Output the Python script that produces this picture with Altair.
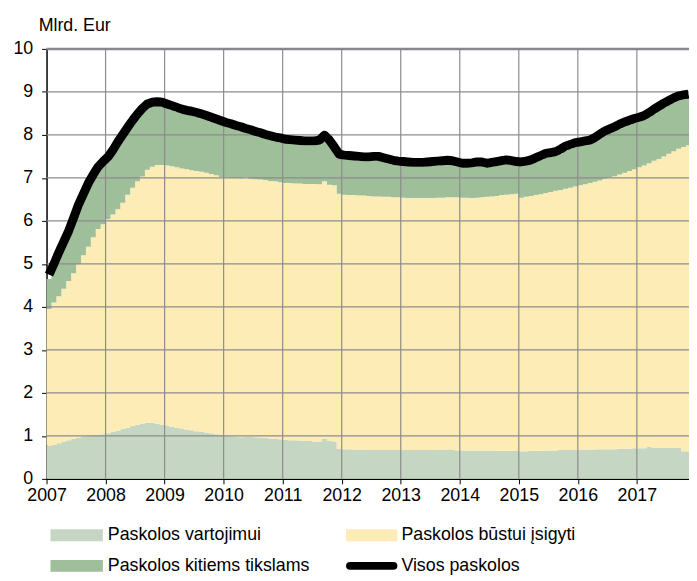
import altair as alt
import pandas as pd

# ---- data (monthly, Jan 2007 .. Nov 2017) ----
vartojimui = [  # top of "Paskolos vartojimui" (consumer loans)
    0.77, 0.79, 0.83, 0.87, 0.90, 0.93, 0.96, 0.99, 1.01, 1.02, 1.03, 1.04,
    1.06, 1.09, 1.12, 1.16, 1.19, 1.23, 1.26, 1.28, 1.30, 1.30, 1.28, 1.26,
    1.24, 1.21, 1.19, 1.17, 1.15, 1.13, 1.11, 1.09, 1.08, 1.06, 1.04, 1.02,
    1.00, 0.99, 0.98, 0.97, 0.98, 0.98, 0.97, 0.96, 0.95, 0.94, 0.93, 0.92,
    0.91, 0.90, 0.90, 0.89, 0.88, 0.88, 0.87, 0.87, 0.94, 0.88, 0.87, 0.70,
    0.69, 0.69, 0.68, 0.68, 0.68, 0.67, 0.67, 0.67, 0.67, 0.67, 0.67, 0.67,
    0.67, 0.67, 0.67, 0.67, 0.67, 0.67, 0.67, 0.68, 0.68, 0.68, 0.67, 0.66,
    0.66, 0.66, 0.66, 0.66, 0.66, 0.66, 0.66, 0.65, 0.65, 0.65, 0.65, 0.65,
    0.64, 0.64, 0.65, 0.65, 0.65, 0.66, 0.66, 0.66, 0.67, 0.67, 0.67, 0.67,
    0.68, 0.68, 0.68, 0.68, 0.69, 0.69, 0.69, 0.69, 0.70, 0.70, 0.70, 0.71,
    0.71, 0.71, 0.74, 0.72, 0.72, 0.72, 0.72, 0.72, 0.72, 0.64, 0.64,
]
bustui_virsus = [  # top of "Paskolos būstui įsigyti" stack
    3.95, 4.10, 4.25, 4.42, 4.60, 4.78, 4.99, 5.20, 5.40, 5.62, 5.81, 5.92,
    6.04, 6.15, 6.27, 6.42, 6.61, 6.77, 6.92, 7.03, 7.19, 7.26, 7.30, 7.30,
    7.29, 7.27, 7.25, 7.22, 7.20, 7.18, 7.16, 7.14, 7.12, 7.09, 7.06, 7.02,
    7.01, 7.00, 7.00, 6.99, 7.02, 6.98, 6.97, 6.96, 6.95, 6.93, 6.92, 6.90,
    6.88, 6.88, 6.87, 6.87, 6.86, 6.86, 6.86, 6.85, 6.92, 6.84, 6.83, 6.63,
    6.61, 6.60, 6.60, 6.59, 6.59, 6.58, 6.57, 6.57, 6.56, 6.56, 6.55, 6.55,
    6.54, 6.53, 6.53, 6.53, 6.53, 6.53, 6.53, 6.54, 6.54, 6.55, 6.55, 6.55,
    6.54, 6.54, 6.53, 6.54, 6.55, 6.56, 6.57, 6.58, 6.60, 6.61, 6.62, 6.63,
    6.54, 6.56, 6.58, 6.60, 6.62, 6.65, 6.67, 6.70, 6.72, 6.75, 6.77, 6.80,
    6.83, 6.85, 6.88, 6.91, 6.94, 6.98, 7.01, 7.04, 7.08, 7.12, 7.16, 7.20,
    7.25, 7.29, 7.34, 7.40, 7.44, 7.50, 7.56, 7.62, 7.68, 7.72, 7.76,
]
kitiems_virsus = [  # top of "Paskolos kitiems tikslams" stack
    4.65, 4.90, 5.17, 5.42, 5.67, 5.97, 6.28, 6.53, 6.78, 6.98, 7.16, 7.28,
    7.39, 7.55, 7.74, 7.91, 8.08, 8.24, 8.39, 8.52, 8.62, 8.66, 8.67, 8.66,
    8.62, 8.58, 8.54, 8.50, 8.47, 8.45, 8.42, 8.39, 8.35, 8.31, 8.27, 8.23,
    8.19, 8.16, 8.12, 8.09, 8.05, 8.02, 7.98, 7.95, 7.91, 7.88, 7.85, 7.83,
    7.80, 7.79, 7.78, 7.77, 7.76, 7.76, 7.76, 7.78, 7.89, 7.78, 7.62, 7.45,
    7.43, 7.42, 7.41, 7.40, 7.39, 7.39, 7.40, 7.40, 7.37, 7.34, 7.31, 7.29,
    7.28, 7.27, 7.26, 7.26, 7.26, 7.27, 7.28, 7.29, 7.30, 7.31, 7.30, 7.27,
    7.24, 7.24, 7.25, 7.27, 7.27, 7.24, 7.26, 7.28, 7.30, 7.32, 7.30, 7.28,
    7.27, 7.29, 7.32, 7.37, 7.42, 7.47, 7.49, 7.51, 7.57, 7.64, 7.68, 7.72,
    7.74, 7.76, 7.78, 7.84, 7.92, 7.99, 8.04, 8.09, 8.15, 8.20, 8.24, 8.28,
    8.31, 8.35, 8.42, 8.50, 8.57, 8.64, 8.70, 8.76, 8.81, 8.83, 8.85,
]
visos = [  # "Visos paskolos" line
    4.75, 5.00, 5.27, 5.52, 5.77, 6.07, 6.38, 6.63, 6.88, 7.08, 7.26, 7.38,
    7.49, 7.65, 7.84, 8.01, 8.18, 8.34, 8.49, 8.62, 8.72, 8.76, 8.77, 8.76,
    8.72, 8.68, 8.64, 8.60, 8.57, 8.55, 8.52, 8.49, 8.45, 8.41, 8.37, 8.33,
    8.29, 8.26, 8.22, 8.19, 8.15, 8.12, 8.08, 8.05, 8.01, 7.98, 7.95, 7.93,
    7.90, 7.89, 7.88, 7.87, 7.86, 7.86, 7.86, 7.88, 7.99, 7.88, 7.72, 7.55,
    7.53, 7.52, 7.51, 7.50, 7.49, 7.49, 7.50, 7.50, 7.47, 7.44, 7.41, 7.39,
    7.38, 7.37, 7.36, 7.36, 7.36, 7.37, 7.38, 7.39, 7.40, 7.41, 7.40, 7.37,
    7.34, 7.34, 7.35, 7.37, 7.37, 7.34, 7.36, 7.38, 7.40, 7.42, 7.40, 7.38,
    7.37, 7.39, 7.42, 7.47, 7.52, 7.57, 7.59, 7.61, 7.67, 7.74, 7.78, 7.82,
    7.84, 7.86, 7.88, 7.94, 8.02, 8.09, 8.14, 8.19, 8.25, 8.30, 8.34, 8.38,
    8.41, 8.45, 8.52, 8.60, 8.67, 8.74, 8.80, 8.86, 8.91, 8.93, 8.95,
]
first_year = 2007
year_ticks = list(range(0, 121, 12))          # month index of each January
y_ticks = list(range(0, 11))
grid_y = list(range(1, 10))
grid_x = list(range(12, 121, 12))
legend_labels = ["Paskolos vartojimui", "Paskolos būstui įsigyti",
                 "Paskolos kitiems tikslams", "Visos paskolos"]
unit_label = "Mlrd. Eur"

C_CONS = "#c5d7c2"
C_HOUS = "#feecb6"
C_OTH = "#9ebf99"
C_GRID = "#8c8c8c"
C_TOP = "#86888b"
FONT = "Liberation Sans"
W, H = 650, 435

n = len(visos)
# step areas: one point per month start plus a closing point at the end of the last month
idx = list(range(n + 1))
ext = lambda a: list(a) + [a[-1]]
area_df = pd.DataFrame({
    "m": idx,
    "zero": [0.0] * (n + 1),
    "c": ext(vartojimui),
    "ht": ext(bustui_virsus),
    "gt": ext(kitiems_virsus),
})
line_df = pd.DataFrame({"mc": [i + 0.5 for i in range(n)], "visos": visos})

xscale = alt.Scale(domain=[0, 130.6], nice=False, zero=False)
yscale = alt.Scale(domain=[0, 10], nice=False)
axis_style = dict(labelFont=FONT, labelFontSize=18, labelColor="black",
                  domainColor="black", domainWidth=1.5, tickColor="black",
                  tickWidth=1, tickSize=5, title=None, grid=False)
xaxis = alt.Axis(values=year_ticks, labelExpr=f"{first_year} + datum.value / 12",
                 labelPadding=3, labelOverlap=False, labelFlush=False, **axis_style)
yaxis = alt.Axis(values=y_ticks, labelPadding=9, **axis_style)


def X(f):
    return alt.X(f"{f}:Q", scale=xscale, axis=xaxis)


def Y(f):
    return alt.Y(f"{f}:Q", scale=yscale, axis=yaxis)


abase = alt.Chart(area_df)
cons = abase.mark_area(color=C_CONS, interpolate="step-after").encode(
    x=X("m"), y=Y("zero"), y2="c:Q")
hous = abase.mark_area(color=C_HOUS, interpolate="step-after").encode(
    x=X("m"), y=Y("c"), y2="ht:Q")
oth = abase.mark_area(color=C_OTH, interpolate="step-after").encode(
    x=X("m"), y=Y("ht"), y2="gt:Q")

# solid thin gridlines (dashed ones did not show up in earlier renders)
grid_mark = dict(color=C_GRID, strokeWidth=1.2)
gy = alt.Chart(pd.DataFrame({"gy": grid_y})).mark_rule(**grid_mark).encode(
    y=Y("gy"), x=alt.value(0), x2=alt.value(W))
gx = alt.Chart(pd.DataFrame({"gx": grid_x})).mark_rule(**grid_mark).encode(
    x=X("gx"), y=alt.value(0), y2=alt.value(H))

line = alt.Chart(line_df).mark_line(color="black", strokeWidth=9, strokeJoin="round",
                                    strokeCap="butt").encode(
    x=X("mc"), y=Y("visos"))

one = pd.DataFrame({"k": [0]})

# grey frame line along the top of the plot
top = alt.Chart(one).mark_rule(color=C_TOP, strokeWidth=2.5).encode(
    x=alt.value(0), x2=alt.value(W), y=alt.value(0))


def sym_rect(x0, x1, yc, color):
    return alt.Chart(one).mark_rect(color=color).encode(
        x=alt.value(x0), x2=alt.value(x1), y=alt.value(yc - 6), y2=alt.value(yc + 6))


def label(x0, yc, txt):
    return alt.Chart(one).mark_text(align="left", baseline="middle", fontSize=18,
                                    font=FONT, color="black").encode(
        x=alt.value(x0), y=alt.value(yc), text=alt.value(txt))


r1, r2 = 492, 523
leg = [
    sym_rect(4, 57, r1, C_CONS), label(62, r1, legend_labels[0]),
    sym_rect(303, 355, r1, C_HOUS), label(359, r1, legend_labels[1]),
    sym_rect(4, 57, r2, C_OTH), label(62, r2, legend_labels[2]),
    alt.Chart(one).mark_rule(color="black", strokeWidth=8, strokeCap="round").encode(
        x=alt.value(307), x2=alt.value(351), y=alt.value(r2)),
    label(359, r2, legend_labels[3]),
]

title = alt.Chart(one).mark_text(align="left", baseline="alphabetic", fontSize=18,
                                 font=FONT, color="black").encode(
    x=alt.value(-8), y=alt.value(-18), text=alt.value(unit_label))

chart = alt.layer(cons, hous, oth, gy, gx, line, top, title, *leg).properties(
    width=W, height=H,
    padding={"left": 39, "top": 38, "right": 0, "bottom": 104},
    autosize=alt.AutoSizeParams(type="none"),
).configure_view(strokeWidth=0)

chart.save("out.html", embed_options={"renderer": "svg", "actions": False})
